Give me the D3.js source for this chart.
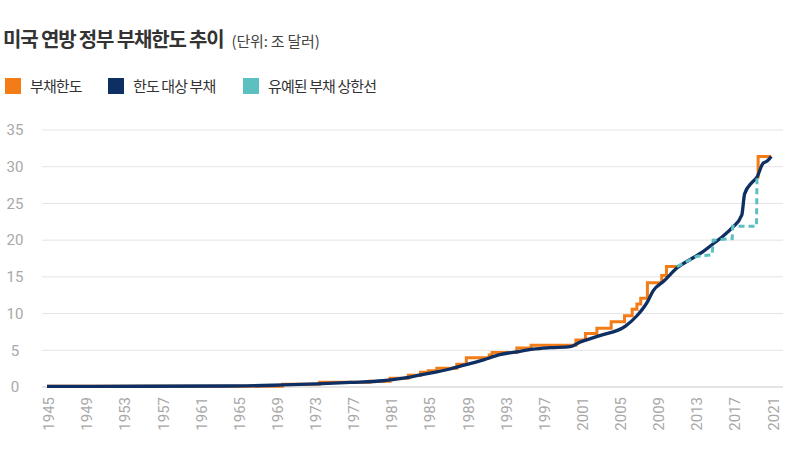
<!DOCTYPE html>
<html>
<head>
<meta charset="utf-8">
<script src="https://cdn.jsdelivr.net/npm/d3@7"></script>
<style>
  html, body { margin: 0; padding: 0; background: #ffffff; }
  svg { display: block; font-family: "Noto Sans CJK KR", "Noto Sans", sans-serif; }
</style>
</head>
<body>
<svg id="chart" width="800" height="459"></svg>
<script>
// ---------- data (values in trillion USD) ----------
const titleText = "미국 연방 정부 부채한도 추이";
const unitText = "(단위: 조 달러)";
const seriesNames = ["부채한도", "한도 대상 부채", "유예된 부채 상한선"];
const seriesColors = ["#F47C16", "#0E2F63", "#5BC0BF"];

const yTicks = [0, 5, 10, 15, 20, 25, 30, 35];
const xTickYears = [1945, 1949, 1953, 1957, 1961, 1965, 1969, 1973, 1977, 1981, 1985, 1989, 1993, 1997, 2001, 2005, 2009, 2013, 2017, 2021];

// debt limit (step line); null marks the suspended gap
const limitYears = [1945, 1969.7, 1973.6, 1978.9, 1981.0, 1982.9, 1984.2, 1985.0, 1985.9, 1988.0, 1989.0, 1991.4, 1991.7, 1994.3, 1995.8, 2000.5, 2001.5, 2002.7, 2004.2, 2005.6, 2006.4, 2006.9, 2007.3, 2008.0, 2009.5, 2010.0, 2011.1, 2011.2, 2019.55, 2019.62, 2021.0];
const limitValues = [0.1, 0.37, 0.65, 0.8, 1.2, 1.6, 2.0, 2.2, 2.55, 3.1, 4.0, 4.35, 4.7, 5.3, 5.7, 6.4, 7.3, 8.0, 8.9, 9.7, 10.6, 11.3, 12.1, 14.2, 15.2, 16.4, 16.4, null, 28.6, 31.4, 31.4];

// debt subject to limit
const debtYears = [1945, 1955, 1965.8, 1969.8, 1973.3, 1976.8, 1980.3, 1981.3, 1983.1, 1985.2, 1987.3, 1988.3, 1990.8, 1992.5, 1994.3, 1996.0, 1997.8, 1999.9, 2000.9, 2003.0, 2005.7, 2006.9, 2008.0, 2008.6, 2009.7, 2011.1, 2012.8, 2013.8, 2014.9, 2015.9, 2016.9, 2017.9, 2018.2, 2019.0, 2019.5, 2020.1, 2020.6, 2021.0];
const debtValues = [0.08, 0.1, 0.15, 0.28, 0.42, 0.62, 0.85, 1.0, 1.35, 1.9, 2.45, 2.8, 3.7, 4.4, 4.8, 5.15, 5.35, 5.5, 6.1, 7.0, 8.3, 9.7, 11.6, 13.1, 14.4, 16.2, 17.6, 18.4, 19.5, 20.5, 21.7, 23.4, 26.3, 27.9, 28.6, 30.4, 30.8, 31.4];

// suspended debt ceiling (dashed)
const suspYears = [2011.1, 2013.2, 2014.8, 2014.9, 2016.9, 2016.95, 2019.45, 2019.5];
const suspValues = [16.4, 17.8, 18.0, 20.0, 20.2, 21.9, 21.9, 28.6];

// ---------- layout ----------
const svg = d3.select("#chart");
const plot = { left: 42, right: 783, top: 130, bottom: 387 };

const x = d3.scaleLinear().domain([1945, 2021]).range([47, 771.3]);
const y = d3.scaleLinear().domain([0, 35]).range([plot.bottom, plot.top]);

// title
const title = svg.append("text")
  .attr("x", 3).attr("y", 47)
  .attr("font-size", 20).attr("font-weight", 700).attr("fill", "#333")
  .attr("letter-spacing", "-1.15px")
  .text(titleText);
const titleEnd = 3 + title.node().getComputedTextLength();
svg.append("text")
  .attr("x", titleEnd + 8).attr("y", 47)
  .attr("font-size", 15).attr("fill", "#444")
  .attr("letter-spacing", "-0.2px")
  .text(unitText);

// legend
const legendX = [5, 108, 243];
seriesNames.forEach((name, i) => {
  const g = svg.append("g").attr("transform", `translate(${legendX[i]},78)`);
  g.append("rect").attr("width", 16).attr("height", 16).attr("fill", seriesColors[i]);
  g.append("text").attr("x", 25).attr("y", 14)
    .attr("font-size", 15).attr("fill", "#333").attr("letter-spacing", "-0.9px")
    .text(name);
});

// grid + y labels
const grid = svg.append("g");
yTicks.forEach(t => {
  grid.append("line")
    .attr("x1", plot.left).attr("x2", plot.right)
    .attr("y1", y(t)).attr("y2", y(t))
    .attr("stroke", t === 0 ? "#c8c8c8" : "#e4e4e4").attr("stroke-width", 1);
  grid.append("text")
    .attr("x", 15).attr("y", y(t)).attr("dy", "0.35em")
    .attr("text-anchor", "middle").attr("font-size", 15)
    .attr("fill", "#a8a8a8")
    .attr("font-family", "Roboto, 'Noto Sans', sans-serif")
    .text(t);
});

// x labels (rotated)
const xl = svg.append("g");
xTickYears.forEach(yr => {
  xl.append("text")
    .attr("transform", `translate(${x(yr) + 2},397) rotate(-90)`)
    .attr("dy", "0.35em")
    .attr("text-anchor", "end").attr("font-size", 15)
    .attr("fill", "#a8a8a8")
    .attr("font-family", "Roboto, 'Noto Sans', sans-serif")
    .text(yr);
});

// series
const limitData = limitYears.map((d, i) => ({ x: d, v: limitValues[i] }));
const debtData = debtYears.map((d, i) => ({ x: d, v: debtValues[i] }));
const suspData = suspYears.map((d, i) => ({ x: d, v: suspValues[i] }));

const stepLine = d3.line()
  .defined(d => d.v !== null)
  .x(d => x(d.x)).y(d => y(d.v))
  .curve(d3.curveStepAfter);
const smoothLine = d3.line()
  .x(d => x(d.x)).y(d => y(d.v))
  .curve(d3.curveMonotoneX);
const linLine = d3.line()
  .x(d => x(d.x)).y(d => y(d.v));

svg.append("path").datum(limitData)
  .attr("d", stepLine).attr("fill", "none")
  .attr("stroke", seriesColors[0]).attr("stroke-width", 3);

svg.append("path").datum(debtData)
  .attr("d", smoothLine).attr("fill", "none")
  .attr("stroke", seriesColors[1]).attr("stroke-width", 3.3)
  .attr("stroke-linejoin", "round");

svg.append("path").datum(suspData)
  .attr("d", linLine).attr("fill", "none")
  .attr("stroke", seriesColors[2]).attr("stroke-width", 3)
  .attr("stroke-dasharray", "6,4");
</script>
</body>
</html>
